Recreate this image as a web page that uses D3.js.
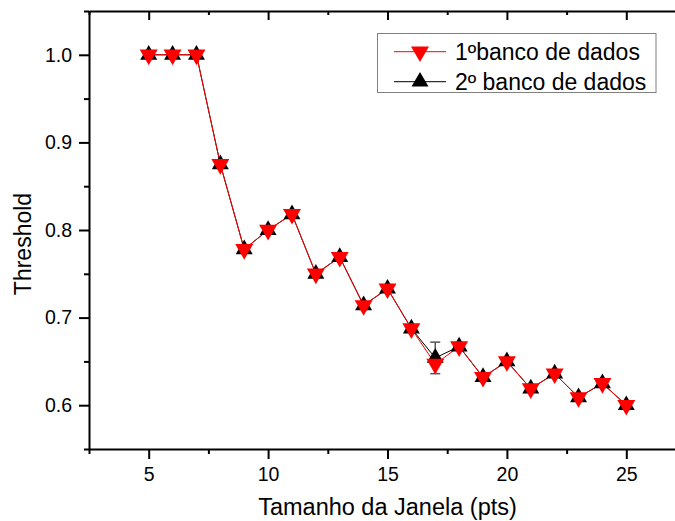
<!DOCTYPE html>
<html>
<head>
<meta charset="utf-8">
<script src="https://cdn.jsdelivr.net/npm/d3@7"></script>
<style>
  html, body { margin: 0; padding: 0; background: #fff; }
  svg { display: block; }
  text { font-family: "Liberation Sans", Arial, sans-serif; fill: #000; }
</style>
</head>
<body>
<svg id="chart" width="675" height="521"></svg>
<script>
// ---- data ----
const windowSizes = [5, 6, 7, 8, 9, 10, 11, 12, 13, 14, 15, 16, 17, 18, 19, 20, 21, 22, 23, 24, 25];
const banco1 = [1.0, 1.0, 1.0, 0.875, 0.778, 0.8, 0.818, 0.75, 0.769, 0.714, 0.733, 0.6875, 0.647, 0.667, 0.632, 0.65, 0.619, 0.636, 0.609, 0.625, 0.6];
const banco2 = [1.0, 1.0, 1.0, 0.875, 0.778, 0.8, 0.818, 0.75, 0.769, 0.714, 0.733, 0.6875, 0.654, 0.667, 0.632, 0.65, 0.619, 0.636, 0.609, 0.625, 0.6];
const banco2Err = [0, 0, 0, 0, 0, 0, 0, 0, 0, 0, 0, 0, 0.018, 0, 0, 0, 0, 0, 0, 0, 0];
const seriesNames = ["1ºbanco de dados", "2º banco de dados"];
const xMajorTicks = [5, 10, 15, 20, 25];
const xMinorTicks = [2.5, 7.5, 12.5, 17.5, 22.5, 27.5];
const yMajorTicks = [0.6, 0.7, 0.8, 0.9, 1.0];
const yMinorTicks = [0.55, 0.65, 0.75, 0.85, 0.95, 1.05];
const xTitle = "Tamanho da Janela (pts)";
const yTitle = "Threshold";

// ---- layout ----
const plotLeft = 89, plotTop = 11, plotBottom = 449;
const svg = d3.select("#chart");

const x = d3.scaleLinear().domain([2.5, 27.5]).range([plotLeft, 686]);
const y = d3.scaleLinear().domain([0.55, 1.05]).range([plotBottom, plotTop]);

const fmtY = d3.format(".1f");

function styleAxis(g) {
  g.selectAll("path").attr("stroke", "#000").attr("stroke-width", 2);
  g.selectAll("line").attr("stroke", "#000").attr("stroke-width", 2);
}

// bottom axis
const gB = svg.append("g").attr("transform", `translate(0,${plotBottom})`)
  .call(d3.axisBottom(x).tickValues(xMajorTicks).tickSize(10).tickSizeOuter(0).tickPadding(8).tickFormat(d3.format("d")));
styleAxis(gB);
gB.selectAll("text").attr("font-size", 19.5).attr("font-family", "Liberation Sans, Arial, sans-serif");
svg.append("g").attr("transform", `translate(0,${plotBottom})`)
  .call(d3.axisBottom(x).tickValues(xMinorTicks).tickSize(5).tickSizeOuter(0).tickFormat(""))
  .call(g => { g.select("path").remove(); styleAxis(g); });

// top axis (inward ticks)
const gT = svg.append("g").attr("transform", `translate(0,${plotTop})`)
  .call(d3.axisBottom(x).tickValues(xMajorTicks).tickSize(9).tickSizeOuter(0).tickFormat(""));
styleAxis(gT);
svg.append("g").attr("transform", `translate(0,${plotTop})`)
  .call(d3.axisBottom(x).tickValues(xMinorTicks).tickSize(4).tickSizeOuter(0).tickFormat(""))
  .call(g => { g.select("path").remove(); styleAxis(g); });

// left axis
const gL = svg.append("g").attr("transform", `translate(${plotLeft},0)`)
  .call(d3.axisLeft(y).tickValues(yMajorTicks).tickSize(10).tickSizeOuter(0).tickPadding(7).tickFormat(fmtY));
styleAxis(gL);
gL.selectAll("text").attr("font-size", 19.5).attr("font-family", "Liberation Sans, Arial, sans-serif");
svg.append("g").attr("transform", `translate(${plotLeft},0)`)
  .call(d3.axisLeft(y).tickValues(yMinorTicks).tickSize(5).tickSizeOuter(0).tickFormat(""))
  .call(g => { g.select("path").remove(); styleAxis(g); });

// titles
svg.append("text").attr("x", (x.range()[0] + x.range()[1]) / 2).attr("y", 515)
  .attr("text-anchor", "middle").attr("font-size", 23.5).text(xTitle);
svg.append("text").attr("transform", `translate(31,244) rotate(-90)`)
  .attr("text-anchor", "middle").attr("font-size", 23).text(yTitle);

// data series
const pts1 = windowSizes.map((d, i) => ({ x: d, y: banco1[i] }));
const pts2 = windowSizes.map((d, i) => ({ x: d, y: banco2[i], e: banco2Err[i] }));
const line = d3.line().x(d => x(d.x)).y(d => y(d.y));

const triDown = d3.symbol().type(d3.symbolTriangle).size(140);
const triUp = d3.symbol().type(d3.symbolTriangle).size(125);

const plot = svg.append("g");

// series 2 (black)
plot.append("path").datum(pts2).attr("d", line).attr("fill", "none").attr("stroke", "#000").attr("stroke-width", 1);
plot.selectAll(".err").data(pts2.filter(d => d.e > 0)).enter().append("g").attr("class", "err")
  .each(function(d) {
    const g = d3.select(this);
    const cx = x(d.x), y1 = y(d.y + d.e), y2 = y(d.y - d.e);
    g.append("line").attr("x1", cx).attr("x2", cx).attr("y1", y1).attr("y2", y2).attr("stroke", "#555").attr("stroke-width", 1.5);
    g.append("line").attr("x1", cx - 5).attr("x2", cx + 5).attr("y1", y1).attr("y2", y1).attr("stroke", "#555").attr("stroke-width", 1.5);
    g.append("line").attr("x1", cx - 5).attr("x2", cx + 5).attr("y1", y2).attr("y2", y2).attr("stroke", "#555").attr("stroke-width", 1.5);
  });

// series 1 (red)
plot.append("path").datum(pts1).attr("d", line).attr("fill", "none").attr("stroke", "#ff0000").attr("stroke-width", 1);

plot.selectAll(".m2").data(pts2).enter().append("path").attr("class", "m2")
  .attr("d", triUp).attr("fill", "#000")
  .attr("transform", d => `translate(${x(d.x)},${y(d.y)})`);
plot.selectAll(".m1").data(pts1).enter().append("path").attr("class", "m1")
  .attr("d", triDown).attr("fill", "#ff0000")
  .attr("transform", d => `translate(${x(d.x)},${y(d.y)}) rotate(180)`);

// legend
const lg = svg.append("g");
lg.append("rect").attr("x", 377.5).attr("y", 33.5).attr("width", 278.5).attr("height", 59)
  .attr("fill", "#fff").attr("stroke", "#808080").attr("stroke-width", 1);
const legendRows = [
  { name: seriesNames[0], color: "#ff0000", sym: triDown, rot: 180, cy: 51.7 },
  { name: seriesNames[1], color: "#000", sym: triUp, rot: 0, cy: 81.7 }
];
legendRows.forEach(r => {
  lg.append("line").attr("x1", 394).attr("x2", 446).attr("y1", r.cy).attr("y2", r.cy)
    .attr("stroke", r.color).attr("stroke-width", 1);
  lg.append("path").attr("d", r.sym).attr("fill", r.color)
    .attr("transform", `translate(420,${r.cy}) rotate(${r.rot})`);
  lg.append("text").attr("x", 455).attr("y", r.cy).attr("dy", "0.36em")
    .attr("font-size", 23).text(r.name);
});
</script>
</body>
</html>
